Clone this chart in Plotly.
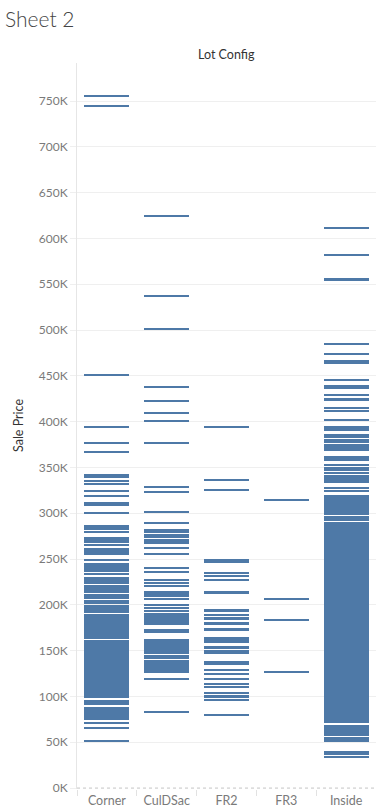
import plotly.graph_objects as go

# ---------------- data (sale prices, in thousands) ----------------
categories = ["Corner", "CulDSac", "FR2", "FR3", "Inside"]

corner_k = [
    755, 745, 451, 394, 377, 367,
    341.6, 339.6, 335, 332, 324, 319, 311, 309, 300.4,
    286, 284, 283, 279.5, 273, 271, 269, 265,
    261, 259, 257, 255, 249,
    244.5, 242.5, 240.5, 238.5, 237, 233.8,
    229.2, 227.2, 225.2, 223.8,
    220.5, 218.5, 216.5, 214.5,
    210.7, 208.7, 207.4,
    204.1, 202.3,
    198.4, 196.4, 194.4, 192.5,
    189, 187, 185, 183, 181, 179, 177, 175, 173, 171, 169, 167, 165, 164.1,
    160.5, 158.5, 156.5, 154.5, 152.5, 150.5, 148.5, 146.5, 144.5, 142.5,
    140.5, 138.5, 136.5, 134.5, 132.5, 130.5, 128.5, 126.5, 124.5, 122.5,
    120.5, 118.5, 116.5, 114.5, 112.5, 110.5, 108.5, 106.5, 104.5, 102.5,
    100.5, 99.7,
    95, 93, 91.7,
    87.3, 85.3, 83.3, 81.3, 79.3, 77.3, 75.3,
    71.2, 65.7, 51.3,
]

culdsac_k = [
    625, 537.5, 501.4, 438, 422.8, 409.7, 401, 377,
    328.3, 323.5, 301.6, 289.6,
    281.7, 279.5, 276.2, 274.3, 270.7, 268.7, 267.5, 262, 255.8,
    240, 236, 227.2, 223.8, 221, 214, 212, 210, 206.5,
    200, 196.6, 193.6,
    190, 188, 186, 184, 182, 180.4, 179.4,
    172.5, 170.6,
    161.6, 159.6, 157.6, 155.6, 153.6, 151.6, 149.6, 147.4,
    144.1, 141.9,
    138.6, 136.6, 134.6, 132.6, 130.6, 128.6, 127,
    119, 83.3,
]

fr2_k = [
    394.4, 336.6, 325.7,
    248.6, 247, 234.7, 231.2, 227.1, 214, 213.2,
    194.3, 193.2, 188.9, 185.6, 184.5, 180, 179, 173.6, 172.5,
    164.1, 162.1, 160.1, 159.4, 154.2, 152.8, 149.5, 147.4,
    137.9, 135.7, 129, 124.8, 119.3, 113.9, 110.6, 104, 100.8, 99.7, 96.2, 79.7,
]

fr3_k = [315, 206.7, 183.7, 127]

inside_k = [
    611.7, 582.2, 556, 554.5, 485, 474, 466, 464.3,
    445.5, 439, 437, 429.4, 425, 423.6, 415, 411.6, 402,
    394, 392, 390.8, 385.7, 383.5, 380.2, 378, 374.4, 372.4, 370.4, 369,
    361.3, 359.3, 358.4, 352.6, 349.3, 347.1, 344,
    340.6, 338.6, 336.6, 334.4,
    327.5, 324.2,
    318.8, 316.8, 314.8, 312.8, 310.8, 308.8, 306.8, 304.8, 302.8, 300.8, 299.5,
    295.8, 293.8, 292.9,
    289, 287, 285, 283, 281, 279, 277, 275, 273, 271, 269, 267, 265, 263,
    261, 259, 257, 255, 253, 251, 249, 247, 245, 243, 241, 239, 237, 235,
    233, 231, 229, 227, 225, 223, 221, 219, 217, 215, 213, 211, 209, 207,
    205, 203, 201, 199, 197, 195, 193, 191, 189, 187, 185, 183, 181, 179,
    177, 175, 173, 171, 169, 167, 165, 163, 161, 159, 157, 155, 153, 151,
    149, 147, 145, 143, 141, 139, 137, 135, 133, 131, 129, 127, 125, 123,
    121, 119, 117, 115, 113, 111, 109, 107, 105, 103, 101, 99, 97, 95,
    93, 91, 89, 87, 85, 83, 81, 79, 77, 75, 73, 72.4,
    67.7, 65.7, 63.7, 61.7, 59.7, 57.9,
    54.6, 52.6, 51.3,
    39.3, 37.5, 34,
]

tick_values_k = [0, 50, 100, 150, 200, 250, 300, 350, 400, 450, 500, 550, 600, 650, 700, 750]
tick_labels = ["0K", "50K", "100K", "150K", "200K", "250K", "300K", "350K",
               "400K", "450K", "500K", "550K", "600K", "650K", "700K", "750K"]

# ---------------- build marks ----------------
MARK_K = 2.2  # tick-mark thickness in axis units
series = [corner_k, culdsac_k, fr2_k, fr3_k, inside_k]
xs, bases, heights = [], [], []
for cat, vals in zip(categories, series):
    for v in vals:
        xs.append(cat)
        bases.append(v - MARK_K / 2)
        heights.append(MARK_K)

BLUE = "#4e79a7"
FONT = "Lato, 'Open Sans', Arial, sans-serif"

fig = go.Figure(
    go.Bar(
        x=xs, y=heights, base=bases, width=0.75,
        marker=dict(color=BLUE, line=dict(width=0)),
        hoverinfo="skip", showlegend=False,
    )
)

fig.update_layout(
    width=376, height=811,
    margin=dict(l=77, r=0, t=63, b=22, pad=0),
    paper_bgcolor="white", plot_bgcolor="white",
    font=dict(family=FONT, color="#333333"),
    title=dict(
        text="Sheet 2", x=5 / 376, xanchor="left", xref="container",
        y=1 - 20 / 811, yanchor="middle", yref="container",
        font=dict(family=FONT, size=21, color="#444444", weight=300),
    ),
    bargap=0,
)

fig.update_xaxes(
    type="category", categoryorder="array", categoryarray=categories,
    range=[-0.5, 4.5], showgrid=False, showline=False, zeroline=False,
    ticks="outside", tickson="boundaries", ticklen=6, tickcolor="#e2e2e2",
    ticklabelstandoff=2,
    tickfont=dict(family=FONT, size=12.5, color="#7a7a7a"), fixedrange=True,
)

fig.update_yaxes(
    range=[-1, 791.5], tickvals=tick_values_k, ticktext=tick_labels,
    showgrid=True, gridcolor="#efefef", gridwidth=1,
    ticks="outside", ticklen=6, tickcolor="#efefef",
    showline=True, linecolor="#e6e6e6", linewidth=1, zeroline=False,
    tickfont=dict(family=FONT, size=12, color="#7a7a7a"), fixedrange=True,
)

# dotted zero reference line
fig.add_shape(type="line", xref="paper", yref="y", x0=0, x1=1, y0=0, y1=0,
              line=dict(color="#c4c4c4", width=1, dash="dot"), layer="above")

# column header and axis title
fig.add_annotation(text="Lot Config", xref="paper", yref="paper", x=0.5, y=1,
                   yshift=9, xanchor="center", yanchor="middle", showarrow=False,
                   font=dict(family=FONT, size=12.5, color="#333333"))
fig.add_annotation(text="Sale Price", xref="paper", yref="paper", x=0, y=0.5,
                   xshift=-59, xanchor="center", yanchor="middle", textangle=-90,
                   showarrow=False, font=dict(family=FONT, size=12.5, color="#333333"))

fig.write_html(
    "out.html",
    config={"displayModeBar": False},
    post_script="document.body.style.margin='0';document.body.style.overflow='hidden';",
)
